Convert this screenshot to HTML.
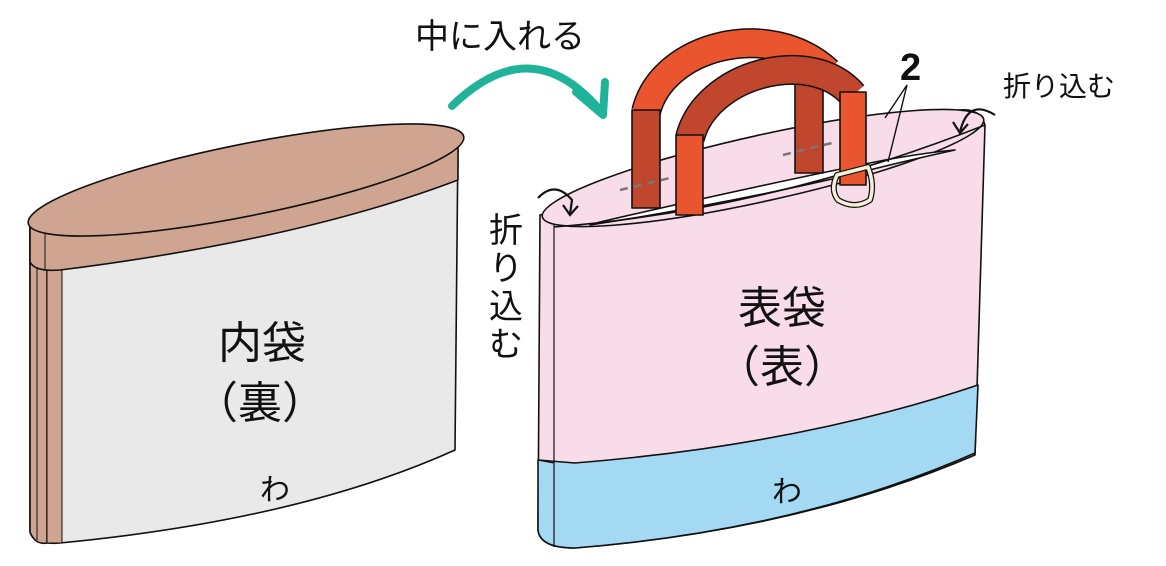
<!DOCTYPE html>
<html><head><meta charset="utf-8"><style>
html,body{margin:0;padding:0;background:#fff}
svg{display:block}
text{font-family:"Liberation Sans","Noto Sans CJK JP",sans-serif;fill:#111}
.j{font-family:"Noto Sans CJK JP",sans-serif}
</style></head><body>
<svg width="1166" height="566" viewBox="0 0 1166 566" xmlns="http://www.w3.org/2000/svg">
<g stroke="#111" stroke-width="1.6" stroke-linejoin="round">
<!-- LEFT BAG -->
<path d="M30 222 L30 532 Q33 545 60 543 Q300 520 455 450 L458 140 Z" fill="#e8e9e8"/>
<path d="M30 222 L30 532 Q35 545 47 543 L47 265 Z" fill="#cfa592"/>
<line x1="37" y1="265" x2="37" y2="540" stroke-width="1"/>
<rect x="47" y="265" width="15" height="278" fill="#cfa592" stroke-width="1"/>
<path d="M30 222 L30 262 Q35 272 60 270 Q300 240 458 180 L458 140 Z" fill="#cfa592"/>
<line x1="45" y1="225" x2="45" y2="270" stroke-width="1"/>
<ellipse cx="246" cy="180" rx="222" ry="36" transform="rotate(-11.3 246 180)" fill="#cfa592"/>
<!-- RIGHT BAG -->
<path d="M646 112 C 662 45, 770 18, 828 72" fill="none" stroke="#111" stroke-width="30"/>
<path d="M646 112 C 662 45, 770 18, 828 72" fill="none" stroke="#e8552f" stroke-width="27"/>
<path d="M540 215 L538 530 Q540 548 575 548 Q800 530 975 455 L985 125 Q980 108 960 110 Z" fill="#f8dce9"/>
<path d="M538 460 L538 530 Q540 548 575 548 Q800 530 975 453 L978 385 Q800 445 575 463 Z" fill="#a3d9f2"/>
<line x1="554" y1="225" x2="554" y2="547" stroke-width="1.2"/>
<line x1="538" y1="460" x2="554" y2="463" stroke-width="1.2"/>
<ellipse cx="763" cy="168" rx="226" ry="33" transform="rotate(-12.5 763 168)" fill="#f8dce9"/>
<path d="M600 222 Q760 185 885 160 Q930 152 955 150 Q900 162 850 175 Q720 205 590 225 Z" fill="#fff"/>
<path d="M554 227 Q770 210 985 125" fill="none"/>
<rect x="632" y="110" width="28" height="98" fill="#c0472d"/>
<rect x="795" y="80" width="28" height="93" fill="#c0472d"/>
<g stroke="#777" stroke-width="2.5" stroke-dasharray="8 6" fill="none">
<path d="M620 190 L670 178"/><path d="M783 155 L832 143"/>
</g>
<path d="M690 138 C 705 75, 810 45, 853 95" fill="none" stroke="#111" stroke-width="30"/>
<path d="M690 138 C 705 75, 810 45, 853 95" fill="none" stroke="#c0472d" stroke-width="27"/>
<rect x="676" y="135" width="27" height="80" fill="#e8552f"/>
<rect x="840" y="92" width="26" height="93" fill="#e8552f"/>
<path d="M837 175 L868 167 Q875 185 870 200 Q855 210 838 200 Q830 190 837 175 Z" fill="none" stroke="#111" stroke-width="6"/>
<path d="M837 175 L868 167 Q875 185 870 200 Q855 210 838 200 Q830 190 837 175 Z" fill="none" stroke="#f5f0d8" stroke-width="3.5"/>
</g>
<g stroke="#111" stroke-width="1.4" fill="none">
<path d="M907 85 L885 118"/><path d="M907 85 L888 162"/>
</g>
<g stroke="#111" stroke-width="2.2" fill="none">
<path d="M538 198 Q555 180 572 200 L570 214"/><path d="M563 205 L570 215 L578 206"/>
<path d="M960 132 Q968 98 995 115"/><path d="M953 122 L960 133 L968 124"/>
</g>
<path d="M452 106 Q530 30 598 108" fill="none" stroke="#1fb39a" stroke-width="8" stroke-linecap="round"/>
<path d="M576 92 L603 115 L605 82" fill="none" stroke="#1fb39a" stroke-width="8" stroke-linecap="round" stroke-linejoin="round"/>
<text class="j" x="415" y="48" font-size="34">中に入れる</text>
<text x="900" y="80" font-size="38" font-weight="bold">2</text>
<text class="j" x="1003" y="96" font-size="28">折り込む</text>
<g class="j" font-size="34" text-anchor="middle">
<text x="506" y="242">折</text><text x="506" y="280">り</text><text x="506" y="318">込</text><text x="506" y="356">む</text>
</g>
<g class="j" font-size="44" text-anchor="middle">
<text x="262" y="358">内袋</text>
<text x="260" y="418">（裏）</text>
<text x="782" y="323">表袋</text>
<text x="782" y="382">（表）</text>
</g>
<text class="j" x="275" y="500" font-size="30" text-anchor="middle">わ</text>
<text class="j" x="787" y="502" font-size="30" text-anchor="middle">わ</text>
</svg>
</body></html>
